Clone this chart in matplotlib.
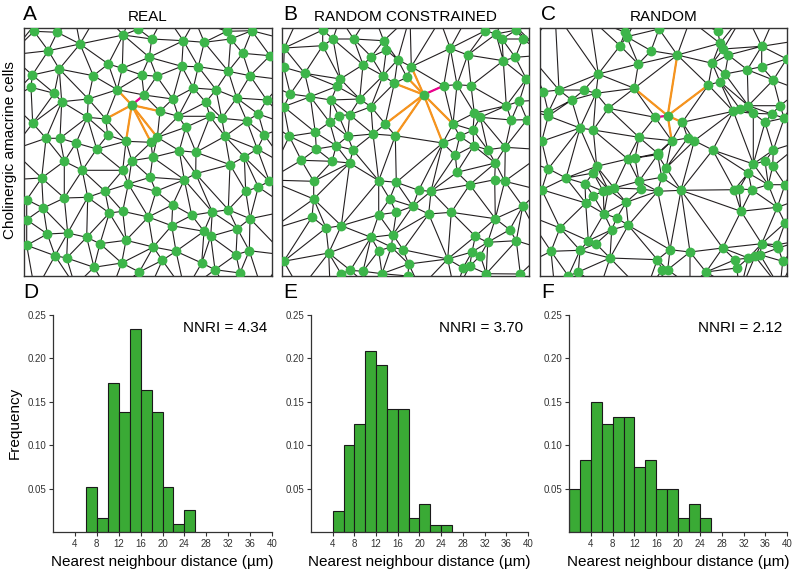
import numpy as np
import matplotlib
matplotlib.use("Agg")
import matplotlib.pyplot as plt
import matplotlib.tri as mtri

plt.rcParams['font.family'] = ['Liberation Sans', 'DejaVu Sans']

# ---- cell positions (image pixel coords, y down) ----
real_x = [34, 57.3, 80, 48.3, 123.3, 138.3, 151.7, 183.3, 204.3, 226.7, 230.7, 251.7, 242.7, 270,
          59.3, 32.3, 108.3, 122.3, 149.3, 141.7, 156.7, 181.7, 198.3, 228.3, 250, 93.3, 31, 54.3,
          117.3, 144, 193.3, 216, 61.7, 88.3, 131.7, 172.7, 205.7, 236.7, 266.7, 160, 178.3, 87.3,
          105.7, 210, 221.7, 246.7, 258.3, 32.7, 185.7, 107.7, 46, 60, 76, 126, 151, 157.3, 225,
          264.3, 96.7, 179.3, 196, 257.3,
          64.3, 82.3, 131.7, 152.7, 122.7, 230, 244.3, 41.7, 150, 195.7, 184.3, 269.3, 128.3, 105,
          156, 245.7, 258.3, 26.7, 64.3, 87.7, 43.3, 172.7, 122.7, 109.3, 148.3, 191.7, 212.3,
          228.3, 250, 26.7, 171.7, 204, 210.7, 237.3, 47.3, 67.7, 86.7, 100, 126, 26.7, 153.3,
          176, 249.3, 55, 66.7, 162.3, 201.7, 236, 94, 121.7, 139.3, 215, 240,
          45, 75, 100, 130, 165, 195, 215, 262, 288, 285, 290, 286, 292, 285,
          35, 75, 110, 150, 185, 225, 262, 10, 8, 12, 6, 10]
real_y = [31.3, 32.3, 44, 50.7, 35, 29, 39, 40.7, 42.3, 31.3, 39, 30.7, 53.3, 55.7,
          69, 75, 64, 68.3, 57.3, 75, 76.3, 66.3, 66.7, 71.3, 75.7, 75.7, 87.3, 93.3,
          89.7, 95, 88, 89.7, 101.7, 99, 105, 99, 102.3, 98, 100, 111.3, 116.3, 117.3,
          119, 116.3, 118.3, 120.7, 114, 123.3, 127.3, 135, 138.3, 138.3, 143, 141.3, 142.3, 137.3, 136.3,
          135, 149, 150.7, 152.3, 149,
          161.3, 170.3, 160.7, 157.3, 170.3, 164.7, 157, 178, 177.3, 173.7, 179.7, 181.3, 184, 191.3,
          191.3, 191.3, 187, 199.7, 198, 197.3, 208, 204.7, 211.3, 213, 217, 215.3, 212,
          209.7, 218.7, 219.7, 225.7, 231.3, 236.3, 228.7, 234, 233, 237.3, 243.7, 240.3, 245.3, 247,
          251.3, 250.7, 255.7, 258, 260.3, 263, 254.7, 267.3, 263, 272, 269.7, 273,
          12, 18, 10, 16, 14, 20, 8, 14, 40, 80, 125, 165, 210, 255,
          292, 286, 294, 288, 292, 286, 290, 55, 100, 150, 180, 265]

constr_x = [322.7, 333, 353.7, 322.7, 284.3, 383.7, 386.3, 371.3, 363, 397.7, 411.3, 450.3, 467.7,
            485.3, 496, 502, 516.3, 522.7, 503.3, 515.3, 283.7, 304.7, 383, 407, 340.3, 337, 394.3,
            443.7, 457, 471, 526.3, 290.3, 310.3, 423.7, 359.7, 331, 371, 283.7, 506.3, 519.3, 338.7,
            349.7, 474.3, 480.3, 527, 329.7, 385.3, 453, 511.3, 289.3, 315.3, 347.7, 373, 395.3, 473,
            459.7, 442.7, 336.3, 316.3, 353, 473.7, 487.7, 505.3,
            301.3, 332, 349.7, 455.3, 495.3, 457, 313.7, 378.7, 396.3, 418.7, 431, 469.7, 494.7, 504.7,
            313.7, 389.7, 412.7, 522.7, 396.3, 378.7, 428.7, 451.3, 312, 495.3, 326, 341.3, 509.7, 371,
            393, 475.3, 487.7, 516.3, 391.3, 403, 378.7, 328.7, 472, 480.3, 447.7, 283.7, 408.7, 463,
            469.7, 350.3, 363, 341, 382, 486.3, 520.3, 408,
            300, 340, 372, 410, 440, 470, 505, 545, 542, 548, 540, 546,
            300, 330, 375, 420, 455, 500, 525, 268, 270, 265, 268, 270]
constr_y = [30, 39, 39, 45.7, 48, 40.7, 50, 56.7, 64.7, 59.7, 66.7, 48.3, 55,
            30.7, 34, 39, 30, 39, 60.7, 57.3, 67.3, 73.3, 75.7, 77.3, 79, 86.3, 83.3,
            85.7, 84.7, 85.7, 79, 94, 96.7, 94.7, 99, 100, 106.7, 106.7, 105.7, 101.3, 115.7,
            114.7, 113, 117.3, 119.7, 122.3, 124, 124, 120, 136.3, 132.3, 136.3, 134, 135.7, 130,
            136.3, 143, 145.7, 149, 150, 145.7, 149.7, 147.3,
            160.3, 161.3, 163, 155.3, 163, 172.3, 181.3, 180.7, 182.3, 190.3, 191.3, 184.7, 179.7, 181.3,
            199, 199, 206.3, 206.3, 212.3, 214.7, 214, 212.3, 217, 218.7, 228, 225.7, 229.7, 237.3,
            234.7, 236.3, 242.3, 240.7, 247, 249.7, 250.7, 253, 252, 255.7, 259, 261.3, 264, 268,
            266.3, 270.3, 271.3, 273.7, 273.7, 273.7, 274, 276,
            14, 18, 10, 16, 20, 12, 16, 55, 100, 150, 190, 250,
            290, 286, 292, 288, 294, 286, 292, 40, 85, 120, 180, 230]

rand_x = [625, 626.7, 659, 717.7, 620, 651, 677.3, 720, 723.3, 728.3, 761.7, 786.7, 638.3, 712.3,
          598.3, 725, 747.3, 761.7, 773.3, 720, 708.3, 634.3, 543.3, 559, 584, 596, 571.7, 608.3,
          548.3, 548.3, 667.7, 655, 682.3, 733.3, 740, 748.3, 753.3, 771.7, 780, 784.3, 765, 580,
          593.3, 541.7, 639, 671.7, 687.7, 694.3, 712.7, 773.3, 657.7,
          548.3, 566, 585, 596.7, 593.3, 627.7, 635, 657.7, 666, 753.3, 765, 772.7, 748.3, 541.7,
          593.3, 603.3, 608.3, 614, 639, 641, 661.7, 657.7, 681, 734.3, 739, 751.7, 768.3, 785,
          585.7, 626, 604, 616.7, 628.3, 611.7, 560, 741, 777.3, 785, 588.3, 596, 551, 580, 610,
          670, 690, 722.7, 761.7, 777.3, 778.3, 782.7, 735, 748.3, 755, 760, 657.3, 662.3, 667.7,
          578.3, 706, 736.7, 568.3,
          555, 590, 640, 690, 745, 775, 802, 800, 805, 798, 803,
          555, 600, 645, 690, 740, 780, 525, 528, 522, 527, 524]
rand_y = [32.3, 36.7, 29, 30.7, 45.7, 50.7, 55, 43.3, 49, 55, 46.3, 59, 64, 63.3,
          74, 74, 69.7, 66.7, 80, 81.7, 85, 88.3, 91.7, 90, 90, 93.3, 100, 108.3,
          112.3, 116, 115.7, 117.3, 122.3, 111.3, 109, 105.7, 113.3, 114, 105.7, 118, 122.3, 128,
          130, 141.3, 137.3, 140.7, 138, 140.7, 150, 150, 153.3,
          168.7, 178, 183.7, 166.3, 173, 159, 158, 154.7, 168, 164, 161.3, 166.3, 173, 189.7,
          195.7, 191.3, 189.7, 188, 181.3, 189, 177.3, 191.3, 190.3, 189.7, 189, 189.7, 184.7, 184.7,
          203, 202.3, 213.7, 218, 225.3, 229.7, 228, 211.3, 207.3, 223, 240.7, 243.7, 251.3, 250.3, 258,
          249.7, 252, 248, 243.7, 244.7, 248, 261.3, 259.7, 258, 256.3, 254.7, 259.7, 269.7, 269.7,
          272, 272, 268, 276,
          12, 18, 14, 20, 12, 16, 40, 90, 140, 200, 240,
          292, 288, 294, 286, 292, 288, 50, 110, 160, 215, 265]

# highlighted cell in each field
centers = [(131.7, 105), (423.7, 94.7), (667.7, 115.7)]

panel_titles = ['REAL', 'RANDOM CONSTRAINED', 'RANDOM']
panel_letters = ['A', 'B', 'C']

# ---- nearest neighbour histograms (bins of 2 um from 0 to 26) ----
bin_left = [0, 2, 4, 6, 8, 10, 12, 14, 16, 18, 20, 22, 24]
freq_real = [0, 0, 0, 0.052, 0.017, 0.172, 0.138, 0.233, 0.164, 0.138, 0.052, 0.009, 0.026]
freq_constr = [0, 0, 0.025, 0.100, 0.125, 0.208, 0.192, 0.142, 0.142, 0.017, 0.033, 0.008, 0.008]
freq_rand = [0.050, 0.083, 0.150, 0.125, 0.133, 0.133, 0.075, 0.083, 0.050, 0.050, 0.017, 0.033, 0.017]
nnri = ['4.34', '3.70', '2.12']
hist_letters = ['D', 'E', 'F']

W, H = 800, 579
fig = plt.figure(figsize=(8, 5.79), dpi=100)

def px_axes(x0, y0, x1, y1):
    return fig.add_axes([x0 / W, 1 - y1 / H, (x1 - x0) / W, (y1 - y0) / H])

boxes = [(24, 28.3, 272, 275.7), (282, 28.3, 529.3, 275.7), (540, 28.3, 787.3, 275.7)]
fields = [(real_x, real_y), (constr_x, constr_y), (rand_x, rand_y)]
pt_green = '#3db54a'
letter_x = [23, 283, 541]

for i, (box, (fx, fy)) in enumerate(zip(boxes, fields)):
    ax = px_axes(*box)
    fx = np.array(fx); fy = np.array(fy)
    tri = mtri.Triangulation(fx, fy)
    ax.triplot(tri, color='#231f20', lw=0.8, zorder=1)
    # neighbours of the highlighted cell
    c = np.argmin((fx - centers[i][0]) ** 2 + (fy - centers[i][1]) ** 2)
    edges = tri.edges
    nb = [b if a == c else a for a, b in edges if a == c or b == c]
    d = [np.hypot(fx[j] - fx[c], fy[j] - fy[c]) for j in nb]
    nearest = nb[int(np.argmin(d))]
    for j in nb:
        col = '#ec008c' if j == nearest else '#f7941d'
        ax.plot([fx[c], fx[j]], [fy[c], fy[j]], color=col, lw=1.6, zorder=2)
    ax.scatter(fx, fy, s=50, color=pt_green, zorder=3, linewidths=0)
    ax.set_xlim(box[0], box[2])
    ax.set_ylim(box[3], box[1])
    ax.set_xticks([]); ax.set_yticks([])
    for s in ax.spines.values():
        s.set_color('#333333'); s.set_linewidth(1.0)
    ax.set_title(panel_titles[i], fontsize=11, pad=5)
    fig.text(letter_x[i] / W, 1 - 14 / H, panel_letters[i], fontsize=15, va='center', ha='left')

fig.text(10 / W, 1 - 150 / H, 'Cholinergic amacrine cells', rotation=90, fontsize=11,
         va='center', ha='center')

hboxes = [(53, 314.7, 272, 532.3), (311, 314.7, 528, 532.3), (569, 314.7, 787.3, 532.3)]
for i, (box, freq) in enumerate(zip(hboxes, [freq_real, freq_constr, freq_rand])):
    ax = px_axes(*box)
    left = [b for b, f in zip(bin_left, freq) if f > 0]
    hts = [f for f in freq if f > 0]
    ax.bar(left, hts, width=2, align='edge', color='#3aaa35', edgecolor='#1a1a1a', lw=0.8)
    ax.set_xlim(0, 40)
    ax.set_ylim(0, 0.25)
    ax.set_xticks(range(4, 41, 4))
    ax.set_yticks([0.05, 0.10, 0.15, 0.20, 0.25])
    ax.set_yticklabels(['0.05', '0.10', '0.15', '0.20', '0.25'])
    ax.tick_params(labelsize=7, length=3, width=0.8, colors='#333333', pad=2)
    for s in ['top', 'right']:
        ax.spines[s].set_visible(False)
    for s in ['left', 'bottom']:
        ax.spines[s].set_color('#333333'); ax.spines[s].set_linewidth(0.9)
    ax.set_xlabel('Nearest neighbour distance (\u00b5m)', fontsize=11, labelpad=4)
    ax.text(0.978, 0.94, 'NNRI = ' + nnri[i], transform=ax.transAxes, fontsize=11,
            ha='right', va='center')
    fig.text(letter_x[i] / W, 1 - 293 / H, hist_letters[i], fontsize=15, va='center', ha='left')

fig.text(15 / W, 1 - 423 / H, 'Frequency', rotation=90, fontsize=11, va='center', ha='center')

fig.savefig('out.png', dpi=100)
